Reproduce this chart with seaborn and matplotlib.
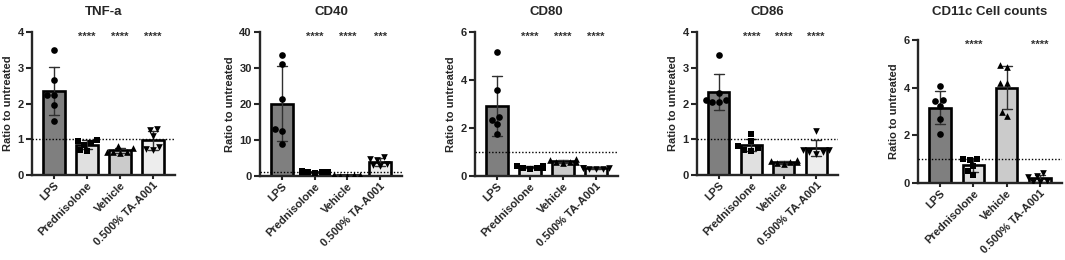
import numpy as np
import pandas as pd
import matplotlib
matplotlib.use("Agg")
import matplotlib.pyplot as plt
import seaborn as sns

sns.set_style("ticks")
plt.rcParams["font.family"] = ["Liberation Sans", "DejaVu Sans"]
plt.rcParams["font.weight"] = "bold"
plt.rcParams["axes.labelweight"] = "bold"

groups = ["LPS", "Prednisolone", "Vehicle", "0.500% TA-A001"]
markers = ["o", "s", "^", "v"]
bar_colors = ["#7f7f7f", "#e0e0e0", "#cbcbcb", "#ededed"]

titles = ["TNF-a", "CD40", "CD80", "CD86", "CD11c Cell counts"]

tnfa = [[3.5, 2.65, 2.25, 2.25, 1.95, 1.5],
        [0.98, 0.95, 0.9, 0.85, 0.7, 0.68],
        [0.8, 0.75, 0.65, 0.65, 0.62, 0.65],
        [1.3, 1.25, 1.08, 0.78, 0.72, 0.7]]
cd40 = [[33.5, 31.2, 21.5, 13.0, 12.5, 8.8],
        [1.2, 1.0, 1.1, 0.9, 1.3, 1.0],
        [0.2, 0.15, 0.1, 0.2, 0.25, 0.1],
        [5.2, 4.8, 4.5, 3.0, 2.8, 3.3]]
cd80 = [[5.15, 3.6, 2.45, 2.35, 2.15, 1.75],
        [0.42, 0.4, 0.35, 0.33, 0.3, 0.35],
        [0.7, 0.65, 0.6, 0.58, 0.55, 0.6],
        [0.35, 0.33, 0.3, 0.32, 0.28, 0.3]]
cd86 = [[3.35, 2.3, 2.1, 2.1, 2.05, 2.05],
        [1.15, 0.95, 0.8, 0.75, 0.7, 0.68],
        [0.42, 0.38, 0.35, 0.33, 0.3, 0.35],
        [1.22, 0.7, 0.7, 0.65, 0.65, 0.6]]
cd11c = [[4.05, 3.5, 3.45, 3.25, 2.7, 2.05],
         [1.0, 1.0, 0.95, 0.7, 0.5, 0.35],
         [4.95, 4.85, 4.2, 4.2, 3.0, 2.8],
         [0.4, 0.3, 0.25, 0.1, 0.05, 0.05]]

tnfa_stars = ["", "****", "****", "****"]
cd40_stars = ["", "****", "****", "***"]
cd80_stars = ["", "****", "****", "****"]
cd86_stars = ["", "****", "****", "****"]
cd11c_stars = ["", "****", "", "****"]

tnfa_ticks = [0, 1, 2, 3, 4]
cd40_ticks = [0, 10, 20, 30, 40]
cd80_ticks = [0, 2, 4, 6]
cd86_ticks = [0, 1, 2, 3, 4]
cd11c_ticks = [0, 2, 4, 6]

panels = [
    (tnfa, tnfa_stars, tnfa_ticks, (32, 175, 32, 175)),
    (cd40, cd40_stars, cd40_ticks, (260, 402, 32, 176)),
    (cd80, cd80_stars, cd80_ticks, (475, 618, 32, 176)),
    (cd86, cd86_stars, cd86_ticks, (697, 838, 32, 175)),
    (cd11c, cd11c_stars, cd11c_ticks, (918, 1062, 40, 183)),
]

W, H = 1065, 260
fig = plt.figure(figsize=(W / 100, H / 100), dpi=100)

for (vals, stars, ticks, (l, r, t, b)), title in zip(panels, titles):
    ax = fig.add_axes([l / W, 1 - b / H, (r - l) / W, (b - t) / H])
    df = pd.DataFrame({
        "group": np.repeat(groups, [len(v) for v in vals]),
        "value": np.concatenate(vals),
    })
    sns.barplot(data=df, x="group", y="value", hue="group", order=groups,
                hue_order=groups, palette=bar_colors, legend=False,
                errorbar="sd", capsize=0.3, width=0.65,
                err_kws={"linewidth": 1.0, "color": "#303030"},
                edgecolor="black", linewidth=1.9, ax=ax)
    for g, m in zip(groups, markers):
        sns.swarmplot(data=df[df["group"] == g], x="group", y="value",
                      order=groups, marker=m, color="black", size=4.8,
                      ax=ax, zorder=4)
    ax.axhline(1, color="black", linestyle=(0, (1, 1.4)), linewidth=1.0, zorder=5)
    ymax = ticks[-1]
    ax.set_ylim(0, ymax)
    ax.set_yticks(ticks)
    ax.set_xlim(-0.67, 3.67)
    for i, s in enumerate(stars):
        if s:
            ax.text(i, ymax * 0.965, s, ha="center", va="center",
                    fontsize=8, color="#333333")
    sns.despine(ax=ax)
    for sp in ("left", "bottom"):
        ax.spines[sp].set_linewidth(1.7)
    ax.tick_params(axis="y", width=1.5, length=4, labelsize=8, pad=2)
    ax.tick_params(axis="x", width=1.5, length=3, labelsize=8, pad=1)
    ax.set_xticks(range(len(groups)))
    ax.set_xticklabels(groups, rotation=45, ha="right",
                       rotation_mode="anchor", fontweight="bold")
    for lab in ax.get_yticklabels():
        lab.set_fontweight("bold")
    ax.set_xlabel("")
    ax.set_ylabel("Ratio to untreated", fontsize=8, fontweight="bold", labelpad=3)
    fig.text((l + r) / 2 / W, 1 - 12 / H, title, ha="center", va="center",
             fontsize=9.5, fontweight="bold")

fig.savefig("out.png", dpi=100, facecolor="white")
